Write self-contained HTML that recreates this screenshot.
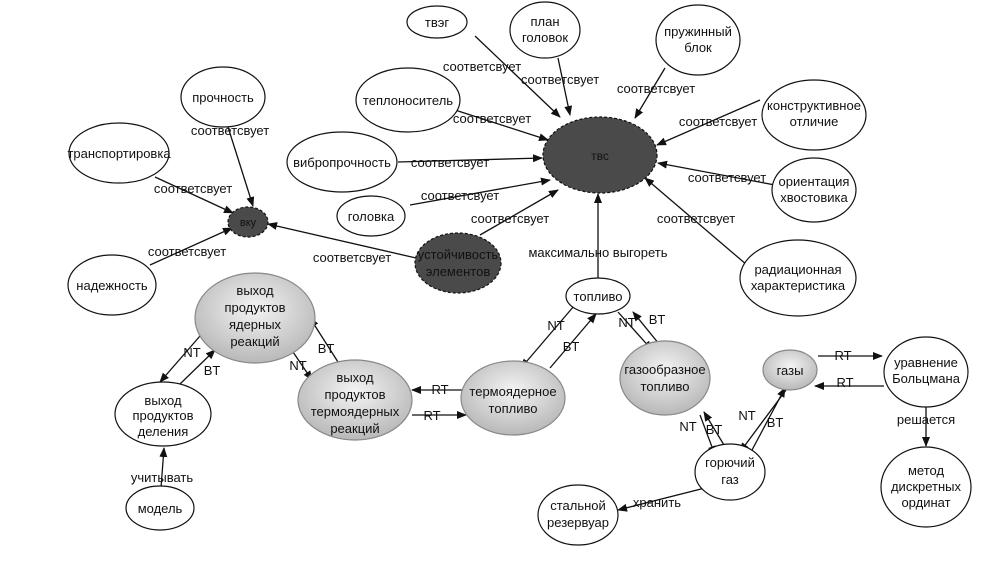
<!DOCTYPE html>
<html><head><meta charset="utf-8"><style>body{margin:0;background:#fff}svg{display:block}text{font-family:"Liberation Sans",sans-serif;font-size:13px;fill:#111;text-anchor:middle}</style></head><body>
<svg width="992" height="568" viewBox="0 0 992 568">
<defs>
<marker id="a" markerWidth="10" markerHeight="8" refX="9" refY="4" orient="auto" markerUnits="userSpaceOnUse"><path d="M0,0L10,4L0,8z" fill="#111"/></marker>
<radialGradient id="g" cx="50%" cy="40%" r="60%"><stop offset="0" stop-color="#f4f4f4"/><stop offset="1" stop-color="#b8b8b8"/></radialGradient>
</defs>
<g stroke="#111" stroke-width="1.3" fill="none" marker-end="url(#a)">
<line x1="475" y1="36" x2="560" y2="117"/>
<line x1="558" y1="58" x2="570" y2="115"/>
<line x1="665" y1="68" x2="635" y2="118"/>
<line x1="760" y1="100" x2="657" y2="145"/>
<line x1="455" y1="110" x2="548" y2="140"/>
<line x1="398" y1="162" x2="542" y2="158"/>
<line x1="775" y1="185" x2="658" y2="163"/>
<line x1="410" y1="205" x2="550" y2="180"/>
<line x1="480" y1="235" x2="558" y2="190"/>
<line x1="747" y1="265" x2="645" y2="178"/>
<line x1="598" y1="278" x2="598" y2="194"/>
<line x1="228" y1="127" x2="253" y2="206"/>
<line x1="155" y1="177" x2="233" y2="213"/>
<line x1="150" y1="265" x2="232" y2="228"/>
<line x1="416" y1="258" x2="268" y2="224"/>
<line x1="200" y1="336" x2="160" y2="382"/>
<line x1="180" y1="384" x2="215" y2="350"/>
<line x1="293" y1="352" x2="312" y2="380"/>
<line x1="338" y1="362" x2="310" y2="318"/>
<line x1="462" y1="390" x2="412" y2="390"/>
<line x1="412" y1="415" x2="466" y2="415"/>
<line x1="574" y1="306" x2="521" y2="368"/>
<line x1="550" y1="368" x2="596" y2="314"/>
<line x1="618" y1="312" x2="652" y2="350"/>
<line x1="668" y1="355" x2="633" y2="312"/>
<line x1="700" y1="415" x2="715" y2="455"/>
<line x1="724" y1="445" x2="704" y2="412"/>
<line x1="786" y1="390" x2="740" y2="452"/>
<line x1="752" y1="450" x2="785" y2="388"/>
<line x1="818" y1="356" x2="882" y2="356"/>
<line x1="884" y1="386" x2="815" y2="386"/>
<line x1="926" y1="407" x2="926" y2="446"/>
<line x1="705" y1="488" x2="618" y2="510"/>
<line x1="161" y1="488" x2="164" y2="448"/>
</g>
<g stroke="#111" stroke-width="1.2" fill="#fff">
<ellipse cx="437" cy="22" rx="30" ry="16"/>
<ellipse cx="545" cy="30" rx="35" ry="28"/>
<ellipse cx="698" cy="40" rx="42" ry="35"/>
<ellipse cx="408" cy="100" rx="52" ry="32"/>
<ellipse cx="814" cy="115" rx="52" ry="35"/>
<ellipse cx="342" cy="162" rx="55" ry="30"/>
<ellipse cx="814" cy="190" rx="42" ry="32"/>
<ellipse cx="371" cy="216" rx="34" ry="20"/>
<ellipse cx="798" cy="278" rx="58" ry="38"/>
<ellipse cx="223" cy="97" rx="42" ry="30"/>
<ellipse cx="119" cy="153" rx="50" ry="30"/>
<ellipse cx="112" cy="285" rx="44" ry="30"/>
<ellipse cx="163" cy="414" rx="48" ry="32"/>
<ellipse cx="160" cy="508" rx="34" ry="22"/>
<ellipse cx="598" cy="296" rx="32" ry="18"/>
<ellipse cx="926" cy="372" rx="42" ry="35"/>
<ellipse cx="730" cy="472" rx="35" ry="28"/>
<ellipse cx="578" cy="515" rx="40" ry="30"/>
<ellipse cx="926" cy="487" rx="45" ry="40"/>
</g>
<g stroke="#888" stroke-width="1.2" fill="url(#g)">
<ellipse cx="255" cy="318" rx="60" ry="45"/>
<ellipse cx="355" cy="400" rx="57" ry="40"/>
<ellipse cx="513" cy="398" rx="52" ry="37"/>
<ellipse cx="665" cy="378" rx="45" ry="37"/>
<ellipse cx="790" cy="370" rx="27" ry="20"/>
</g>
<g stroke="#111" stroke-width="1.2" stroke-dasharray="3,2" fill="#4a4a4a">
<ellipse cx="600" cy="155" rx="57" ry="38"/>
<ellipse cx="458" cy="263" rx="43" ry="30"/>
<ellipse cx="248" cy="222" rx="20" ry="15"/>
</g>
<g>
<text x="437" y="27">твэг</text>
<text x="545" y="26">план</text><text x="545" y="42">головок</text>
<text x="698" y="36">пружинный</text><text x="698" y="52">блок</text>
<text x="408" y="105">теплоноситель</text>
<text x="814" y="110">конструктивное</text><text x="814" y="126">отличие</text>
<text x="342" y="167">вибропрочность</text>
<text x="814" y="186">ориентация</text><text x="814" y="202">хвостовика</text>
<text x="371" y="221">головка</text>
<text x="798" y="274">радиационная</text><text x="798" y="290">характеристика</text>
<text x="223" y="102">прочность</text>
<text x="119" y="158">транспортировка</text>
<text x="112" y="290">надежность</text>
<text x="163" y="405">выход</text><text x="163" y="420">продуктов</text><text x="163" y="436">деления</text>
<text x="160" y="513">модель</text>
<text x="598" y="301">топливо</text>
<text x="926" y="367">уравнение</text><text x="926" y="383">Больцмана</text>
<text x="730" y="467">горючий</text><text x="730" y="484">газ</text>
<text x="578" y="510">стальной</text><text x="578" y="527">резервуар</text>
<text x="926" y="475">метод</text><text x="926" y="491">дискретных</text><text x="926" y="507">ординат</text>
<text x="255" y="295">выход</text><text x="255" y="312">продуктов</text><text x="255" y="329">ядерных</text><text x="255" y="346">реакций</text>
<text x="355" y="382">выход</text><text x="355" y="399">продуктов</text><text x="355" y="416">термоядерных</text><text x="355" y="433">реакций</text>
<text x="513" y="396">термоядерное</text><text x="513" y="413">топливо</text>
<text x="665" y="374">газообразное</text><text x="665" y="391">топливо</text>
<text x="790" y="375">газы</text>
<text x="600" y="160" style="font-size:12px">твс</text>
<text x="458" y="259">устойчивость</text><text x="458" y="276">элементов</text>
<text x="248" y="226" style="font-size:11px">вку</text>
</g>
<g>
<text x="482" y="71">соответсвует</text>
<text x="560" y="84">соответсвует</text>
<text x="656" y="93">соответсвует</text>
<text x="718" y="126">соответсвует</text>
<text x="492" y="123">соответсвует</text>
<text x="450" y="167">соответсвует</text>
<text x="727" y="182">соответсвует</text>
<text x="460" y="200">соответсвует</text>
<text x="510" y="223">соответсвует</text>
<text x="696" y="223">соответсвует</text>
<text x="230" y="135">соответсвует</text>
<text x="193" y="193">соответсвует</text>
<text x="187" y="256">соответсвует</text>
<text x="352" y="262">соответсвует</text>
<text x="598" y="257">максимально выгореть</text>
<text x="162" y="482">учитывать</text>
<text x="926" y="424">решается</text>
<text x="657" y="507">хранить</text>
<text x="192" y="357">NT</text><text x="212" y="375">BT</text>
<text x="298" y="370">NT</text><text x="326" y="353">BT</text>
<text x="440" y="394">RT</text><text x="432" y="420">RT</text>
<text x="556" y="330">NT</text><text x="571" y="351">BT</text>
<text x="627" y="327">NT</text><text x="657" y="324">BT</text>
<text x="688" y="431">NT</text><text x="714" y="434">BT</text>
<text x="747" y="420">NT</text><text x="775" y="427">BT</text>
<text x="843" y="360">RT</text><text x="845" y="387">RT</text>
</g>
</svg>
</body></html>
